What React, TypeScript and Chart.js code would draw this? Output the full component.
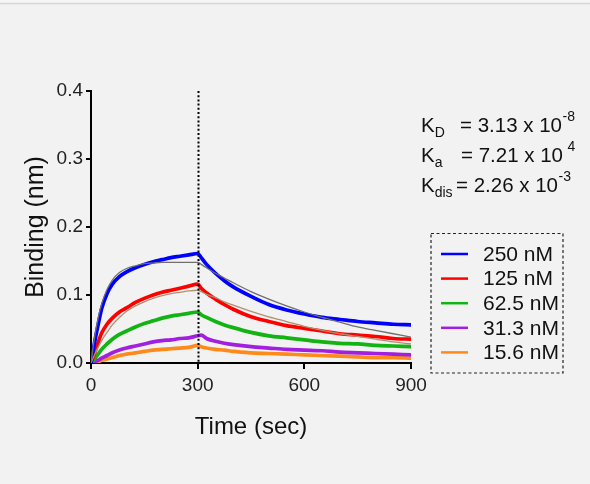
import React, { useEffect, useRef } from "react";
import { Chart, registerables } from "chart.js";

Chart.register(...registerables);

// Sensorgram time base (sec): association 0–300, dissociation 300–900
const timeSec = [0, 10, 20, 30, 45, 60, 80, 100, 125, 150, 175, 200, 225, 250, 275, 300, 310, 325, 350, 375, 400, 450, 500, 550, 600, 650, 700, 750, 800, 850, 900];

// Measured binding responses (nm)
const bind250 = [0, 0.030, 0.056, 0.080, 0.102, 0.116, 0.127, 0.134, 0.140, 0.145, 0.149, 0.152, 0.155, 0.157, 0.159, 0.161, 0.155, 0.145, 0.132, 0.121, 0.112, 0.098, 0.086, 0.078, 0.072, 0.067, 0.064, 0.061, 0.059, 0.057, 0.056];
const bind125 = [0, 0.014, 0.030, 0.044, 0.057, 0.066, 0.075, 0.081, 0.089, 0.095, 0.100, 0.104, 0.107, 0.110, 0.113, 0.116, 0.110, 0.103, 0.094, 0.086, 0.079, 0.068, 0.061, 0.055, 0.051, 0.047, 0.043, 0.041, 0.039, 0.036, 0.035];
const bind62 = [0, 0.006, 0.013, 0.020, 0.028, 0.035, 0.042, 0.047, 0.053, 0.058, 0.062, 0.066, 0.069, 0.071, 0.073, 0.075, 0.071, 0.067, 0.061, 0.056, 0.052, 0.045, 0.040, 0.037, 0.034, 0.031, 0.029, 0.028, 0.026, 0.025, 0.024];
const bind31 = [0, 0.002, 0.004, 0.007, 0.011, 0.015, 0.019, 0.022, 0.025, 0.028, 0.031, 0.033, 0.034, 0.036, 0.037, 0.040, 0.041, 0.036, 0.032, 0.029, 0.027, 0.024, 0.022, 0.020, 0.019, 0.018, 0.016, 0.015, 0.014, 0.013, 0.012];
const bind15 = [0, 0.001, 0.002, 0.004, 0.006, 0.008, 0.011, 0.013, 0.015, 0.017, 0.019, 0.020, 0.021, 0.022, 0.023, 0.026, 0.024, 0.022, 0.020, 0.019, 0.017, 0.015, 0.014, 0.013, 0.012, 0.011, 0.010, 0.009, 0.008, 0.008, 0.007];

// Global 1:1 fit curves for the two highest concentrations
const fit250 = [0, 0.038, 0.066, 0.087, 0.108, 0.122, 0.133, 0.139, 0.143, 0.146, 0.147, 0.148, 0.148, 0.148, 0.148, 0.148, 0.145, 0.140, 0.132, 0.125, 0.118, 0.105, 0.094, 0.084, 0.075, 0.067, 0.060, 0.053, 0.048, 0.043, 0.038];
const fit125 = [0, 0.012, 0.023, 0.033, 0.045, 0.056, 0.067, 0.076, 0.084, 0.090, 0.095, 0.099, 0.102, 0.104, 0.106, 0.107, 0.105, 0.101, 0.096, 0.090, 0.085, 0.076, 0.068, 0.061, 0.054, 0.048, 0.043, 0.039, 0.035, 0.031, 0.028];

const seriesLabels = ["250 nM", "125 nM", "62.5 nM", "31.3 nM", "15.6 nM"];
const seriesColors = ["#0000ff", "#ff0000", "#12b312", "#a21fe0", "#ff8a1c"];
const seriesValues = [bind250, bind125, bind62, bind31, bind15];

const xTicks = [0, 300, 600, 900];
const yTicks = [0, 0.1, 0.2, 0.3, 0.4];
const switchTime = 300;

// Kinetic constants: [symbol, subscript, mantissa text, exponent]
const kineticRows = [
  ["K", "D", "= 3.13 x 10", "-8"],
  ["K", "a", "= 7.21 x 10", " 4"],
  ["K", "dis", "= 2.26 x 10", "-3"],
];

const FONT = "'Liberation Sans', Arial, sans-serif";

const toPoints = (vals: number[]) => vals.map((v, i) => ({ x: timeSec[i], y: v }));

const decorPlugin = {
  id: "decor",
  beforeDraw(chart: any) {
    const { ctx, width, height } = chart;
    ctx.save();
    ctx.fillStyle = "#f2f2f2";
    ctx.fillRect(0, 0, width, height);
    ctx.fillStyle = "#f6f6f6";
    ctx.fillRect(0, 0, width, 3);
    ctx.strokeStyle = "#d6d6d6";
    ctx.lineWidth = 1.5;
    ctx.beginPath();
    ctx.moveTo(0, 3.5);
    ctx.lineTo(width, 3.5);
    ctx.stroke();
    ctx.restore();
  },
  afterDatasetsDraw(chart: any) {
    const { ctx, chartArea, scales } = chart;
    // dotted marker at the start of dissociation
    const x = Math.round(scales.x.getPixelForValue(switchTime)) + 0.5;
    ctx.save();
    ctx.strokeStyle = "#000";
    ctx.lineWidth = 2;
    ctx.setLineDash([2, 2.2]);
    ctx.beginPath();
    ctx.moveTo(x, chartArea.top);
    ctx.lineTo(x, chartArea.bottom);
    ctx.stroke();
    ctx.restore();
  },
  afterDraw(chart: any) {
    const { ctx } = chart;
    ctx.save();
    ctx.fillStyle = "#111";
    ctx.textBaseline = "alphabetic";
    ctx.textAlign = "left";
    const eqX = [460, 461, 456];
    kineticRows.forEach((row, i) => {
      const base = 131.5 + i * 30;
      ctx.font = `20.5px ${FONT}`;
      ctx.fillText(row[0], 421, base);
      const kw = ctx.measureText(row[0]).width;
      ctx.font = `14px ${FONT}`;
      ctx.fillText(row[1], 421 + kw, base + 5.5);
      ctx.font = `20.5px ${FONT}`;
      ctx.fillText(row[2], eqX[i], base);
      const bw = ctx.measureText(row[2]).width;
      ctx.font = `14px ${FONT}`;
      ctx.fillText(row[3], eqX[i] + bw + 0.5, base - 11);
    });

    // legend box
    ctx.strokeStyle = "#222";
    ctx.lineWidth = 1.2;
    ctx.setLineDash([3, 2.5]);
    ctx.strokeRect(431, 233.5, 132, 139.5);
    ctx.setLineDash([]);
    ctx.textBaseline = "middle";
    seriesLabels.forEach((lab, i) => {
      const y = 254 + i * 24.6;
      ctx.strokeStyle = seriesColors[i];
      ctx.lineWidth = 2.5;
      ctx.beginPath();
      ctx.moveTo(441, y);
      ctx.lineTo(468, y);
      ctx.stroke();
      ctx.fillStyle = "#111";
      ctx.font = `21px ${FONT}`;
      ctx.fillText(lab, 483, y + 1);
    });
    ctx.restore();
  },
};

export default function App() {
  const canvasRef = useRef<HTMLCanvasElement | null>(null);

  useEffect(() => {
    document.body.style.margin = "0";
    document.body.style.background = "#f2f2f2";
    const canvas = canvasRef.current;
    if (!canvas) return;

    const datasets: any[] = [
      {
        label: "fit 250",
        data: toPoints(fit250),
        borderColor: "#6f6f6f",
        borderWidth: 1.3,
        order: 0,
      },
      {
        label: "fit 125",
        data: toPoints(fit125),
        borderColor: "#b09070",
        borderWidth: 1.3,
        order: 0,
      },
      ...seriesValues.map((vals, i) => ({
        label: seriesLabels[i],
        data: toPoints(vals),
        borderColor: seriesColors[i],
        borderWidth: 3.7,
        order: i + 1,
      })),
    ];

    const chart = new Chart(canvas, {
      type: "line",
      data: { datasets },
      plugins: [decorPlugin],
      options: {
        responsive: false,
        animation: false,
        devicePixelRatio: 1,
        layout: { padding: { left: 0, top: 91, right: 179, bottom: 0 } },
        elements: {
          point: { radius: 0 },
          line: { cubicInterpolationMode: "monotone", borderJoinStyle: "round", borderCapStyle: "round" },
        },
        plugins: { legend: { display: false }, tooltip: { enabled: false } },
        scales: {
          x: {
            type: "linear",
            min: 0,
            max: 900,
            afterBuildTicks: (s: any) => {
              s.ticks = xTicks.map((v) => ({ value: v }));
            },
            afterFit: (s: any) => {
              s.height = 121;
            },
            border: { display: true, color: "#000", width: 2 },
            grid: { drawOnChartArea: false, drawTicks: true, tickLength: 6, color: "#000", lineWidth: 2 },
            ticks: {
              color: "#222",
              font: { family: FONT, size: 19 },
              padding: 5,
              maxRotation: 0,
              callback: (v: any) => String(v),
            },
            title: {
              display: true,
              text: "Time (sec)",
              color: "#111",
              font: { family: FONT, size: 24 },
              padding: { top: 0, bottom: 42 },
            },
          },
          y: {
            type: "linear",
            min: 0,
            max: 0.4,
            afterBuildTicks: (s: any) => {
              s.ticks = yTicks.map((v) => ({ value: v }));
            },
            afterFit: (s: any) => {
              s.width = 91;
            },
            border: { display: true, color: "#000", width: 2 },
            grid: { drawOnChartArea: false, drawTicks: true, tickLength: 5, color: "#000", lineWidth: 2 },
            ticks: {
              color: "#222",
              font: { family: FONT, size: 19 },
              padding: 3,
              callback: (v: any) => Number(v).toFixed(1),
            },
            title: {
              display: true,
              text: "Binding (nm)",
              color: "#111",
              font: { family: FONT, size: 25 },
              padding: { top: 21, bottom: 0 },
            },
          },
        },
      },
    } as any);

    return () => chart.destroy();
  }, []);

  return (
    <div style={{ width: 590, height: 484 }}>
      <canvas ref={canvasRef} width={590} height={484} style={{ display: "block" }} />
    </div>
  );
}
